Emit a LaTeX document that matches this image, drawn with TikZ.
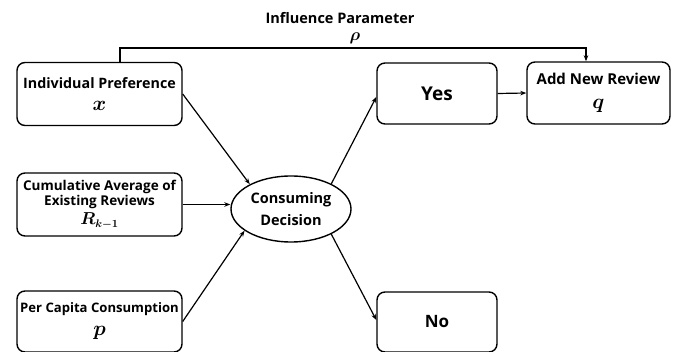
\documentclass[tikz,border=0pt]{standalone}
\usepackage{amsmath}
\usepackage{bm}
\usepackage{fontspec}
\setmainfont{Open Sans}
\usetikzlibrary{shapes.geometric,arrows.meta}
\newcommand{\mth}[1]{{\fontsize{21}{21}\selectfont$\bm{#1}$}}
\begin{document}
\begin{tikzpicture}[x=1pt,y=-1pt,
  box/.style={draw,line width=1.4pt,rounded corners=8pt,align=center,inner sep=0pt},
  conn/.style={line width=1.2pt,-{Stealth[length=6pt,width=4.5pt]}},
  lbl/.style={inner sep=0pt}]
\useasboundingbox (0,0) rectangle (673,352);
\node[box,minimum width=165pt,minimum height=63pt,font=\bfseries\fontsize{14.3}{22}\selectfont] (ind) at (99.5,94) {Individual Preference\\ \mth{x}};
\node[box,minimum width=165pt,minimum height=63pt,font=\bfseries\fontsize{13.5}{12.5}\selectfont] (cum) at (99.5,204.5) {Cumulative Average of\\Existing Reviews\\[3pt] {\fontsize{16}{16}\selectfont$\bm{R_{k-1}}$}};
\node[box,minimum width=165pt,minimum height=61pt,font=\bfseries\fontsize{13.1}{23}\selectfont] (per) at (99.5,321.5) {Per Capita Consumption\\ \mth{p}};
\node[draw,ellipse,line width=1.4pt,minimum width=120pt,minimum height=66pt,inner sep=0pt,align=center,font=\bfseries\fontsize{14.5}{22}\selectfont] (ell) at (291,209) {Consuming\\Decision};
\node[box,minimum width=120pt,minimum height=61pt,font=\bfseries\fontsize{19}{20}\selectfont] (yes) at (437,93.5) {Yes};
\node[box,minimum width=143pt,minimum height=62pt,font=\bfseries\fontsize{15}{24}\selectfont] (add) at (598.5,93) {Add New Review\\ \mth{q}};
\node[box,minimum width=120pt,minimum height=60pt,font=\bfseries\fontsize{17}{20}\selectfont] (no) at (437,322) {No};
\node[lbl,font=\bfseries\fontsize{14.5}{16}\selectfont] (ip) at (340,18) {Influence Parameter};
\node[lbl,font=\fontsize{17}{17}\selectfont] (rho) at (355,38) {$\bm{\rho}$};
\coordinate (tl) at (120,48);
\coordinate (tr) at (586,48);
\draw[conn] (ind.north -| tl) -- (tl) -- (tr) -- (add.north -| tr);
\draw[conn] (ind.east) -- (ell.149);
\draw[conn] (cum.east) -- (cum.east -| ell.west);
\draw[conn] (per.east) -- (ell.205);
\draw[conn] (ell.32) -- ([yshift=-3.5pt]yes.west);
\draw[conn] (ell.-32) -- ([yshift=2pt]no.west);
\draw[conn] (yes.east) -- (add.west);
\end{tikzpicture}
\end{document}
